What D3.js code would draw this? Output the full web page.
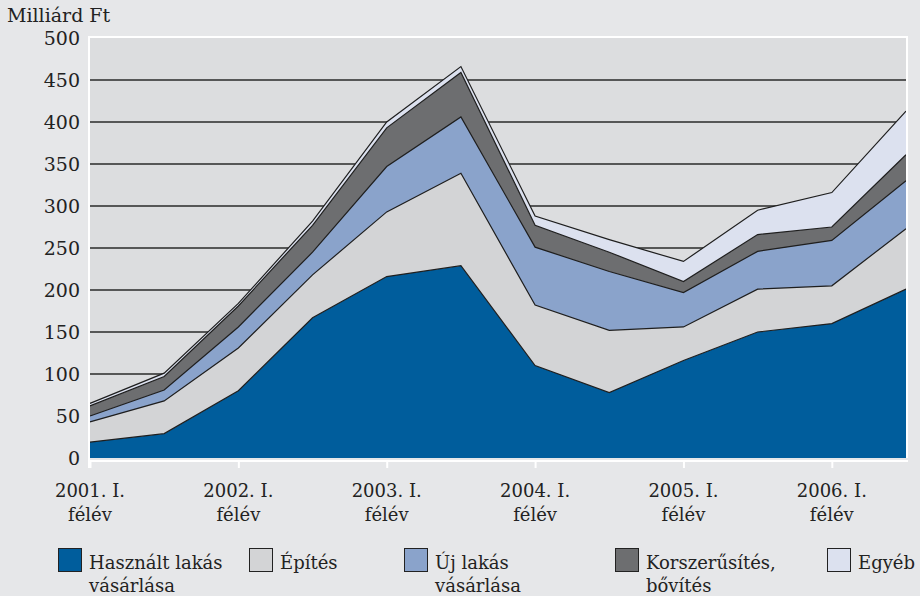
<!DOCTYPE html>
<html>
<head>
<meta charset="utf-8">
<script src="https://cdn.jsdelivr.net/npm/d3@7"></script>
<style>
  body { margin: 0; background: #e6e7e9; }
  svg { display: block; font-family: "DejaVu Serif", serif; }
</style>
</head>
<body>
<div id="chart"></div>
<script>
// half-year periods, 2001 H1 .. 2006 H2
const periods = ["2001 I", "2001 II", "2002 I", "2002 II", "2003 I", "2003 II",
                 "2004 I", "2004 II", "2005 I", "2005 II", "2006 I", "2006 II"];
const yearLabels = ["2001. I.", "2002. I.", "2003. I.", "2004. I.", "2005. I.", "2006. I."];

const hasznalt = [19, 29, 80, 167, 216, 229, 110, 78, 116, 150, 160, 201];
const epites   = [24, 39, 51, 51, 77, 110, 72, 74, 40, 51, 45, 72];
const ujLakas  = [7, 13, 25, 27, 54, 67, 69, 70, 41, 45, 54, 57];
const korszeru = [12, 16, 25, 32, 46, 53, 26, 23, 13, 20, 16, 31];
const egyeb    = [3, 4, 3, 5, 7, 7, 11, 15, 24, 29, 41, 52];

const seriesNames = ["Használt lakás vásárlása", "Építés", "Új lakás vásárlása", "Korszerűsítés, bővítés", "Egyéb"];
const legendLines = [["Használt lakás", "vásárlása"], ["Építés"], ["Új lakás", "vásárlása"], ["Korszerűsítés,", "bővítés"], ["Egyéb"]];
const colors = ["#005d9c", "#d3d4d6", "#8aa3cb", "#6d6e70", "#dce1ef"];
const yTicks = [0, 50, 100, 150, 200, 250, 300, 350, 400, 450, 500];

const width = 920, height = 596;
const svg = d3.select("#chart").append("svg")
    .attr("width", width)
    .attr("height", height);

const x = d3.scaleLinear().domain([0, periods.length - 1]).range([90, 906]);
const y = d3.scaleLinear().domain([0, 500]).range([458, 38]);

// plot background
svg.append("rect")
    .attr("x", x(0)).attr("y", y(500))
    .attr("width", x(11) - x(0)).attr("height", y(0) - y(500))
    .style("fill", "#dcdddf");

// grid lines
svg.append("g")
    .selectAll("line")
    .data(yTicks.filter(d => d > 0 && d < 500))
    .enter().append("line")
    .attr("x1", x(0)).attr("x2", x(11))
    .attr("y1", d => y(d)).attr("y2", d => y(d))
    .style("stroke", "#2a2a2a")
    .style("stroke-width", 1.5);

// stacked areas
const table = periods.map((p, i) => ({
    i: i,
    s0: hasznalt[i], s1: epites[i], s2: ujLakas[i], s3: korszeru[i], s4: egyeb[i]
}));
const stack = d3.stack().keys(["s0", "s1", "s2", "s3", "s4"]);
const layers = stack(table);

const area = d3.area()
    .x(d => x(d.data.i))
    .y0(d => y(d[0]))
    .y1(d => y(d[1]));
const topLine = d3.line()
    .x(d => x(d.data.i))
    .y(d => y(d[1]));

svg.append("g")
    .selectAll("path")
    .data(layers)
    .enter().append("path")
    .attr("d", area)
    .style("fill", (d, i) => colors[i]);

svg.append("g")
    .selectAll("path")
    .data(layers)
    .enter().append("path")
    .attr("d", topLine)
    .style("fill", "none")
    .style("stroke", "#1e1e1e")
    .style("stroke-width", 1.2)
    .style("stroke-linejoin", "miter");

// white frame
const frame = svg.append("g").style("stroke", "#ffffff").style("stroke-width", 2);
frame.append("line").attr("x1", x(0) - 1).attr("x2", x(11) + 1).attr("y1", y(500) - 1).attr("y2", y(500) - 1);
frame.append("line").attr("x1", x(0) - 1).attr("x2", x(0) - 1).attr("y1", y(500) - 2).attr("y2", 468);
frame.append("line").attr("x1", x(11) + 1).attr("x2", x(11) + 1).attr("y1", y(500) - 2).attr("y2", y(0));

// x axis
const xAxis = svg.append("g")
    .attr("transform", "translate(0,461)")
    .call(d3.axisBottom(x).tickValues([0, 2, 4, 6, 8, 10]).tickSize(7).tickSizeOuter(0).tickFormat(""));
xAxis.select(".domain").attr("d", `M${x(0) - 2},0H${x(11) + 2}`).style("stroke", "#fff").style("stroke-width", 2);
xAxis.selectAll(".tick line").style("stroke", "#fff").style("stroke-width", 2);

const xLab = svg.append("g")
    .selectAll("text")
    .data(yearLabels)
    .enter().append("text")
    .attr("x", (d, i) => x(i * 2))
    .attr("y", 497)
    .style("text-anchor", "middle")
    .style("font-size", "18px")
    .style("fill", "#222");
xLab.append("tspan").attr("x", (d, i) => x(i * 2)).text(d => d);
xLab.append("tspan").attr("x", (d, i) => x(i * 2)).attr("dy", 24).text("félév");

// y axis
const yAxis = svg.append("g")
    .attr("transform", "translate(80,0)")
    .call(d3.axisLeft(y).tickValues(yTicks).tickSize(0).tickPadding(0));
yAxis.select(".domain").remove();
yAxis.selectAll("text")
    .style("font-family", "DejaVu Serif, serif")
    .style("font-size", "19px")
    .style("fill", "#222");

svg.append("text")
    .attr("x", 7).attr("y", 22)
    .style("font-size", "19px")
    .style("fill", "#222")
    .text("Milliárd Ft");

// legend
const legendX = [58, 249, 404, 615, 827];
const leg = svg.append("g")
    .selectAll("g")
    .data(seriesNames)
    .enter().append("g")
    .attr("transform", (d, i) => `translate(${legendX[i]},548)`);
leg.append("rect")
    .attr("x", 0.5).attr("y", 0.5)
    .attr("width", 23).attr("height", 23)
    .style("fill", (d, i) => colors[i])
    .style("stroke", "#222")
    .style("stroke-width", 1);
const legText = leg.append("text")
    .attr("x", 31).attr("y", 21)
    .style("font-size", "18px")
    .style("fill", "#222");
legText.selectAll("tspan")
    .data((d, i) => legendLines[i])
    .enter().append("tspan")
    .attr("x", 31)
    .attr("dy", (d, j) => j === 0 ? 0 : 23)
    .text(d => d);
</script>
</body>
</html>
